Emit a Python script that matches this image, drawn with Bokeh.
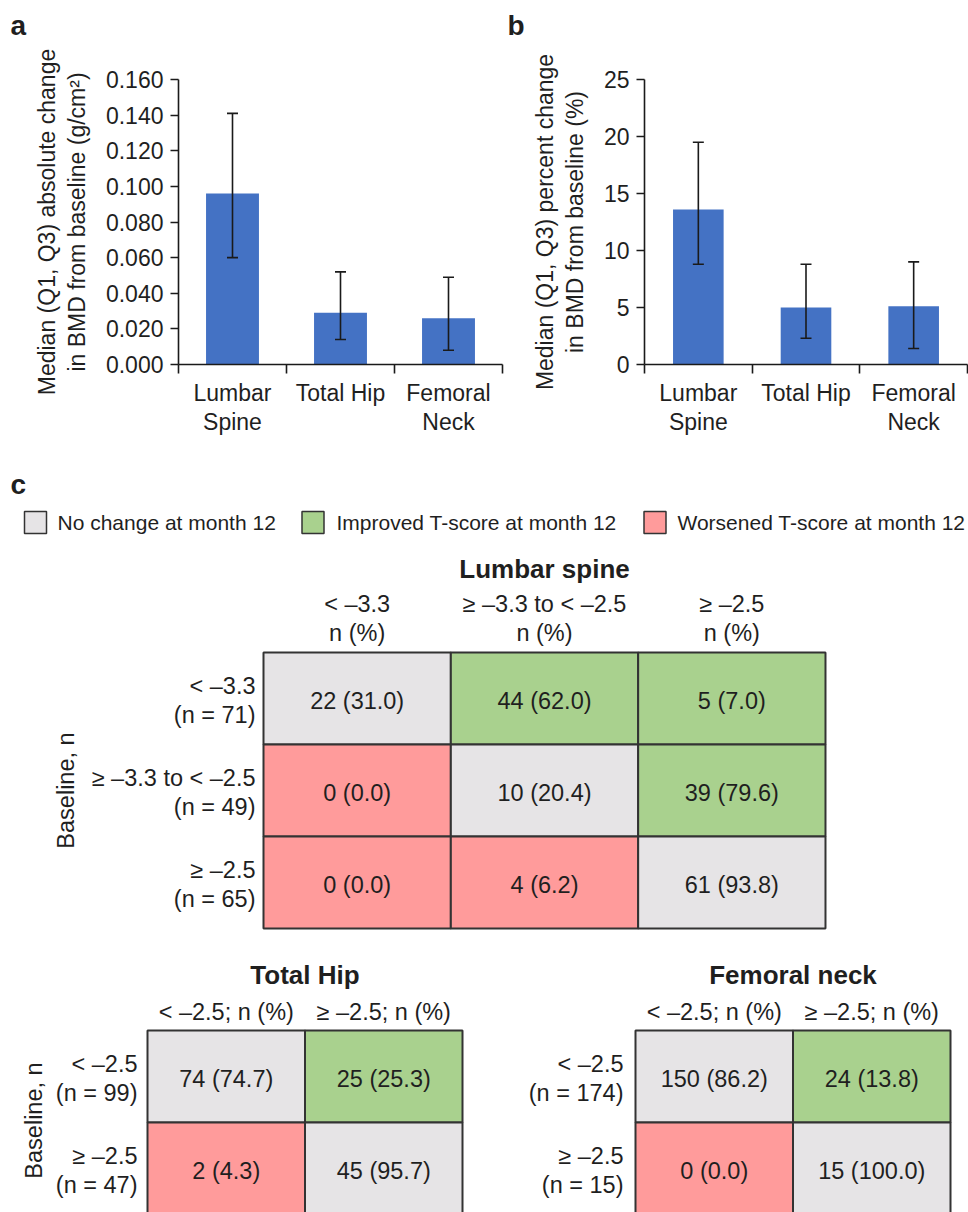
import math
from bokeh.plotting import figure
from bokeh.layouts import column, row
from bokeh.models import (ColumnDataSource, Whisker, TeeHead, FixedTicker,
                          NumeralTickFormatter, Range1d)
from bokeh.core.properties import value
from bokeh.embed import file_html
from bokeh.resources import INLINE

# ---------------- data ----------------
sites = ["Lumbar Spine", "Total Hip", "Femoral Neck"]
site_tick_labels = ["Lumbar\nSpine", "Total Hip", "Femoral\nNeck"]

abs_median = [0.096, 0.029, 0.026]
abs_q1 = [0.060, 0.014, 0.008]
abs_q3 = [0.141, 0.052, 0.049]
abs_ticks = [0.000, 0.020, 0.040, 0.060, 0.080, 0.100, 0.120, 0.140, 0.160]

pct_median = [13.6, 5.0, 5.1]
pct_q1 = [8.8, 2.3, 1.4]
pct_q3 = [19.5, 8.8, 9.0]
pct_ticks = [0, 5, 10, 15, 20, 25]

panel_letters = ["a", "b", "c"]

legend_labels = ["No change at month 12", "Improved T-score at month 12",
                 "Worsened T-score at month 12"]

ls_categories = ["< \u20133.3", "\u2265 \u20133.3 to < \u20132.5", "\u2265 \u20132.5"]
ls_row_n = [71, 49, 65]
ls_counts = [[22, 44, 5], [0, 10, 39], [0, 4, 61]]
ls_pcts = [[31.0, 62.0, 7.0], [0.0, 20.4, 79.6], [0.0, 6.2, 93.8]]

hip_categories = ["< \u20132.5", "\u2265 \u20132.5"]
th_row_n = [99, 47]
th_counts = [[74, 25], [2, 45]]
th_pcts = [[74.7, 25.3], [4.3, 95.7]]

fn_row_n = [174, 15]
fn_counts = [[150, 24], [0, 15]]
fn_pcts = [[86.2, 13.8], [0.0, 100.0]]

# ---------------- styles ----------------
FONT = "Liberation Sans"
TXT = "#1f1f1f"
AXC = "#1a1a1a"
BAR = "#4472C4"
STATUS_COLORS = ["#E6E4E6", "#A9D18E", "#FF9B9B"]  # no change, improved, worsened
BORDER = "#333333"
TABLE_FS = "23.5px"


def canvas_figure(width, height, left, top, cw, rh):
    """Figure whose frame is the whole canvas; (left, top) px is data (0, 0),
    one data unit is cw px across and rh px down."""
    p = figure(width=width, height=height,
               x_range=Range1d(-left / cw, (width - left) / cw),
               y_range=Range1d((height - top) / rh, -top / rh),
               x_axis_location=None, y_axis_location=None, min_border=0,
               output_backend="svg", toolbar_location=None, tools="")
    p.outline_line_color = None
    p.grid.visible = False

    def X(px):
        return (px - left) / cw

    def Y(py):
        return (py - top) / rh
    return p, X, Y


def txt(p, xs, ys, labels, size=TABLE_FS, align="center", style="normal",
        angle=0.0):
    p.text(x=xs, y=ys, text=labels, text_font=value(FONT), text_font_size=size,
           text_align=align, text_baseline="middle", text_color=TXT,
           text_font_style=style, angle=angle)


def bar_panel(medians, q1s, q3s, ticks, tick_format, ylabel,
              width, frame_left, frame_w, bar_w):
    ncat = len(sites)
    xs = [i + 0.5 for i in range(ncat)]
    p = figure(width=width, height=428, x_range=Range1d(0, ncat),
               y_range=Range1d(ticks[0], ticks[-1]),
               output_backend="svg", toolbar_location=None, tools="",
               min_border_left=frame_left,
               min_border_right=width - frame_left - frame_w,
               min_border_top=39, min_border_bottom=104)
    p.outline_line_color = None
    p.grid.visible = False

    src = ColumnDataSource(dict(x=xs, median=medians, q1=q1s, q3=q3s))
    p.vbar(x="x", top="median", bottom=0, width=bar_w, source=src,
           fill_color=BAR, line_color=None)
    p.add_layout(Whisker(source=src, base="x", lower="q1", upper="q3",
                         level="overlay", line_color=AXC, line_width=1.6,
                         lower_head=TeeHead(size=11, line_width=1.6, line_color=AXC),
                         upper_head=TeeHead(size=11, line_width=1.6, line_color=AXC)))

    xa = p.xaxis[0]
    xa.ticker = FixedTicker(ticks=xs, minor_ticks=list(range(ncat + 1)))
    xa.major_label_overrides = {x: lab for x, lab in zip(xs, site_tick_labels)}
    xa.major_tick_line_color = None
    xa.major_tick_out = 0
    xa.major_tick_in = 0
    xa.minor_tick_out = 9
    xa.minor_tick_in = 0
    xa.minor_tick_line_color = AXC
    xa.minor_tick_line_width = 1.6
    xa.axis_line_color = AXC
    xa.axis_line_width = 1.6
    xa.major_label_text_font = FONT
    xa.major_label_text_font_size = "23px"
    xa.major_label_text_color = TXT
    xa.major_label_text_line_height = 1.14
    xa.major_label_standoff = 6

    ya = p.yaxis[0]
    ya.ticker = FixedTicker(ticks=ticks, minor_ticks=[])
    ya.formatter = NumeralTickFormatter(format=tick_format)
    ya.major_tick_out = 8
    ya.major_tick_in = 0
    ya.major_tick_line_color = AXC
    ya.major_tick_line_width = 1.6
    ya.axis_line_color = AXC
    ya.axis_line_width = 1.6
    ya.major_label_text_font = FONT
    ya.major_label_text_font_size = "23px"
    ya.major_label_text_color = TXT
    ya.major_label_standoff = 7
    ya.axis_label = ylabel
    ya.axis_label_text_font = FONT
    ya.axis_label_text_font_size = "23px"
    ya.axis_label_text_font_style = "normal"
    ya.axis_label_text_color = TXT
    ya.axis_label_text_line_height = 1.16
    ya.axis_label_standoff = 13
    return p


# strip with the panel letters a and b (page origin 0, 0)
ptop, Xt, Yt = canvas_figure(968, 40, 0, 0, 1, 1)
txt(ptop, [10, 507], [25.3, 25.3], panel_letters[:2], size="28px", align="left",
    style="bold")

pa = bar_panel(abs_median, abs_q1, abs_q3, abs_ticks, "0.000",
               "Median (Q1, Q3) absolute change\nin BMD from baseline (g/cm\u00b2)",
               width=508, frame_left=178, frame_w=324, bar_w=0.49)
pb = bar_panel(pct_median, pct_q1, pct_q3, pct_ticks, "0",
               "Median (Q1, Q3) percent change\nin BMD from baseline (%)",
               width=460, frame_left=136, frame_w=323, bar_w=0.47)


# ---------------- tables ----------------
def draw_cells(p, counts, pcts, rh):
    xs, ys, fills, labels = [], [], [], []
    for r, (crow, prow) in enumerate(zip(counts, pcts)):
        for c, (n, pc) in enumerate(zip(crow, prow)):
            xs.append(c + 0.5)
            ys.append(r + 0.5)
            status = 0 if c == r else (1 if c > r else 2)
            fills.append(STATUS_COLORS[status])
            labels.append(f"{n} ({pc:.1f})")
    p.rect(x=xs, y=ys, width=1, height=1, fill_color=fills,
           line_color=BORDER, line_width=2)
    txt(p, xs, [y + 2 / rh for y in ys], labels)


def draw_row_labels(p, X, categories, ns, right_px, rh):
    xs, ys, labels = [], [], []
    for r, (cat, n) in enumerate(zip(categories, ns)):
        xs += [X(right_px), X(right_px)]
        ys += [r + 0.5 - 12.5 / rh, r + 0.5 + 16.5 / rh]
        labels += [cat, f"(n = {n})"]
    txt(p, xs, ys, labels, align="right")


# panel c, lumbar spine (figure origin on page: 0, 468)
CW_LS, RH = 187.33, 92
pc, X, Y = canvas_figure(968, 482, 263, 184, CW_LS, RH)
txt(pc, [X(10)], [Y(15.6)], [panel_letters[2]], size="28px", align="left",
    style="bold")
# legend
leg_box_x = [35, 312.5, 654.5]
leg_txt_x = [57, 336, 677]
pc.scatter(x=[X(v) for v in leg_box_x], y=[Y(54)] * 3, marker="square", size=22,
           fill_color=STATUS_COLORS, line_color=BORDER, line_width=1.5)
txt(pc, [X(v) for v in leg_txt_x], [Y(54)] * 3, legend_labels, size="21px",
    align="left")
# title and column headers
ncol = len(ls_categories)
txt(pc, [ncol / 2], [Y(100.3)], ["Lumbar spine"], size="26px", style="bold")
txt(pc, [c + 0.5 for c in range(ncol)], [Y(135.6)] * ncol, ls_categories)
txt(pc, [c + 0.5 for c in range(ncol)], [Y(164.6)] * ncol, ["n (%)"] * ncol)
draw_cells(pc, ls_counts, ls_pcts, RH)
draw_row_labels(pc, X, ls_categories, ls_row_n, 255, RH)
txt(pc, [X(65)], [Y(322)], ["Baseline, n"], angle=math.pi / 2)

# total hip (figure origin on page: 0, 950)
CW2 = 157.5
pd_, Xd, Yd = canvas_figure(488, 262, 147, 80, CW2, RH)
n2 = len(hip_categories)
txt(pd_, [n2 / 2], [Yd(24.3)], ["Total Hip"], size="26px", style="bold")
txt(pd_, [c + 0.5 for c in range(n2)], [Yd(61.9)] * n2,
    [f"{c}; n (%)" for c in hip_categories])
draw_cells(pd_, th_counts, th_pcts, RH)
draw_row_labels(pd_, Xd, hip_categories, th_row_n, 137, RH)
txt(pd_, [Xd(33)], [Yd(170)], ["Baseline, n"], angle=math.pi / 2)

# femoral neck (figure origin on page: 488, 950)
pe, Xe, Ye = canvas_figure(480, 262, 147, 80, CW2, RH)
txt(pe, [n2 / 2], [Ye(24.3)], ["Femoral neck"], size="26px", style="bold")
txt(pe, [c + 0.5 for c in range(n2)], [Ye(61.9)] * n2,
    [f"{c}; n (%)" for c in hip_categories])
draw_cells(pe, fn_counts, fn_pcts, RH)
draw_row_labels(pe, Xe, hip_categories, fn_row_n, 135, RH)

layout = column(ptop, row(pa, pb), pc, row(pd_, pe))
open("out.html", "w").write(file_html(layout, INLINE))
